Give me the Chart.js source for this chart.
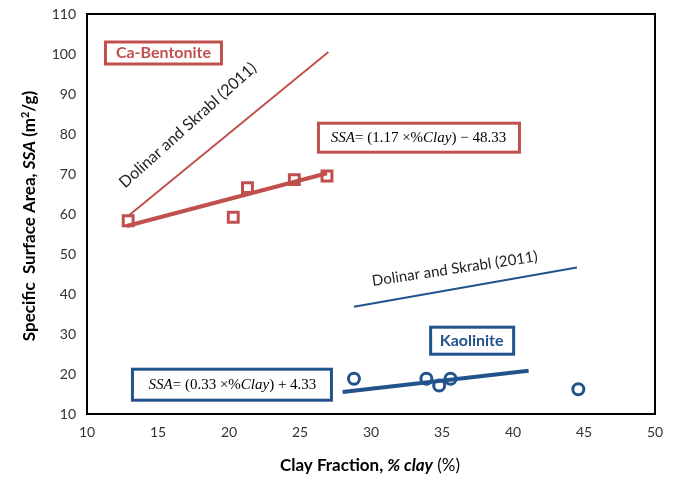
<!DOCTYPE html>
<html lang="en">
<head>
<meta charset="UTF-8">
<title>SSA vs clay fraction</title>
<script src="https://cdn.jsdelivr.net/npm/chart.js"></script>
<style>
  html, body { margin: 0; padding: 0; background: #fff; }
  #wrap { width: 674px; height: 477px; }
</style>
</head>
<body>
<div id="wrap"><canvas id="chart" width="674" height="477"></canvas></div>
<script>
// data
const bentoniteClay = [12.9, 20.3, 21.3, 24.6, 26.9];
const bentoniteSSA = [58.3, 59.2, 66.6, 68.6, 69.5];
const bentoniteFitClay = [12.8, 26.9];
const bentoniteFitSSA = [57.0, 70.2];
const bentoniteDolinarClay = [12.9, 27.0];
const bentoniteDolinarSSA = [59.5, 100.5];

const kaoliniteClay = [28.8, 33.9, 34.8, 35.6, 44.6];
const kaoliniteSSA = [18.8, 18.8, 17.1, 18.8, 16.2];
const kaoliniteFitClay = [28.0, 41.1];
const kaoliniteFitSSA = [15.5, 20.8];
const kaoliniteDolinarClay = [28.8, 44.5];
const kaoliniteDolinarSSA = [36.8, 46.6];

const xTicks = [10, 15, 20, 25, 30, 35, 40, 45, 50];
const yTicks = [10, 20, 30, 40, 50, 60, 70, 80, 90, 100, 110];

const red = '#C0504D';
const blue = '#23538C';

const pts = (xs, ys) => xs.map((x, i) => ({ x: x, y: ys[i] }));

// draws a line of text made of runs with different fonts
function drawRuns(ctx, runs, x, y, align) {
  let total = 0;
  runs.forEach(r => { ctx.font = r.font; total += ctx.measureText(r.text).width; });
  let cx = align === 'center' ? x - total / 2 : x;
  runs.forEach(r => {
    ctx.font = r.font;
    ctx.fillStyle = r.color;
    ctx.fillText(r.text, cx, y + (r.dy || 0));
    cx += ctx.measureText(r.text).width;
  });
  return total;
}

function box(ctx, x, y, w, h, color) {
  ctx.save();
  ctx.fillStyle = '#fff';
  ctx.fillRect(x, y, w, h);
  ctx.strokeStyle = color;
  ctx.lineWidth = 3;
  ctx.strokeRect(x, y, w, h);
  ctx.restore();
}

const sans = 'Lato, "Open Sans", sans-serif';
const serif = '"Liberation Serif", serif';

const decor = {
  id: 'decor',
  afterDatasetsDraw(chart) {
    const ctx = chart.ctx;
    const xs = chart.scales.x, ys = chart.scales.y;
    const a = chart.chartArea;
    ctx.save();
    ctx.textBaseline = 'middle';

    // plot frame
    ctx.strokeStyle = '#000';
    ctx.lineWidth = 2;
    ctx.strokeRect(a.left, a.top, a.right - a.left, a.bottom - a.top);

    // Ca-Bentonite label
    const cx = xs.getPixelForValue(11.3), cy = ys.getPixelForValue(103);
    box(ctx, cx, cy, 116, 22, red);
    drawRuns(ctx, [{ text: 'Ca-Bentonite', font: 'bold 16px ' + sans, color: red }],
      cx + 58, cy + 11, 'center');

    // red equation
    const rx = xs.getPixelForValue(26.3), ry = ys.getPixelForValue(82.7);
    box(ctx, rx, ry, 201, 29, red);
    drawRuns(ctx, [
      { text: 'SSA', font: 'italic 15px ' + serif, color: '#000' },
      { text: '= (1.17 \u00d7%', font: '15px ' + serif, color: '#000' },
      { text: 'Clay', font: 'italic 15px ' + serif, color: '#000' },
      { text: ') \u2212 48.33', font: '15px ' + serif, color: '#000' }
    ], rx + 100, ry + 15, 'center');

    // Kaolinite label
    const kx = xs.getPixelForValue(34.2), ky = ys.getPixelForValue(31.7);
    box(ctx, kx, ky, 83, 27, blue);
    drawRuns(ctx, [{ text: 'Kaolinite', font: 'bold 16px ' + sans, color: blue }],
      kx + 41, ky + 14, 'center');

    // blue equation
    const bx = xs.getPixelForValue(13.2), by = ys.getPixelForValue(21.2);
    box(ctx, bx, by, 199, 31, blue);
    drawRuns(ctx, [
      { text: 'SSA', font: 'italic 15px ' + serif, color: '#000' },
      { text: '= (0.33 \u00d7%', font: '15px ' + serif, color: '#000' },
      { text: 'Clay', font: 'italic 15px ' + serif, color: '#000' },
      { text: ') + 4.33', font: '15px ' + serif, color: '#000' }
    ], bx + 100, by + 16, 'center');

    // rotated source labels
    ctx.save();
    ctx.translate(xs.getPixelForValue(17.1), ys.getPixelForValue(82.2));
    ctx.rotate(-42 * Math.PI / 180);
    drawRuns(ctx, [{ text: 'Dolinar and Skrabl (2011)', font: '16px ' + sans, color: '#222' }], 0, 0, 'center');
    ctx.restore();

    ctx.save();
    ctx.translate(xs.getPixelForValue(35.9), ys.getPixelForValue(46.3));
    ctx.rotate(-8.5 * Math.PI / 180);
    drawRuns(ctx, [{ text: 'Dolinar and Skrabl (2011)', font: '15px ' + sans, color: '#222' }], 0, 0, 'center');
    ctx.restore();

    // axis titles
    drawRuns(ctx, [
      { text: 'Clay Fraction, ', font: 'bold 17px ' + sans, color: '#000' },
      { text: '% clay', font: 'italic bold 17px ' + sans, color: '#000' },
      { text: ' (%)', font: '17px ' + sans, color: '#000' }
    ], 370, 466, 'center');

    ctx.save();
    ctx.translate(30, 216);
    ctx.rotate(-Math.PI / 2);
    drawRuns(ctx, [
      { text: 'Specific  Surface Area, ', font: 'bold 17px ' + sans, color: '#000' },
      { text: 'SSA', font: 'italic bold 17px ' + sans, color: '#000' },
      { text: ' (m', font: 'bold 17px ' + sans, color: '#000' },
      { text: '2', font: 'bold 11px ' + sans, color: '#000', dy: -5 },
      { text: '/g)', font: 'bold 17px ' + sans, color: '#000' }
    ], 0, 0, 'center');
    ctx.restore();

    ctx.restore();
  }
};

const lineSet = (xs, ys, color, width) => ({
  data: pts(xs, ys), showLine: true, borderColor: color, borderWidth: width,
  pointRadius: 0, fill: false
});

new Chart(document.getElementById('chart'), {
  type: 'scatter',
  data: {
    datasets: [
      lineSet(bentoniteDolinarClay, bentoniteDolinarSSA, red, 2),
      lineSet(bentoniteFitClay, bentoniteFitSSA, red, 4),
      lineSet(kaoliniteDolinarClay, kaoliniteDolinarSSA, blue, 2),
      lineSet(kaoliniteFitClay, kaoliniteFitSSA, blue, 4),
      {
        data: pts(bentoniteClay, bentoniteSSA), pointStyle: 'rect', pointRadius: 7,
        borderColor: red, borderWidth: 3, backgroundColor: '#fff'
      },
      {
        data: pts(kaoliniteClay, kaoliniteSSA), pointStyle: 'circle', pointRadius: 5.5,
        borderColor: blue, borderWidth: 3, backgroundColor: '#fff'
      }
    ]
  },
  options: {
    responsive: false,
    animation: false,
    layout: { padding: { top: 14, right: 19, left: 0, bottom: 0 } },
    plugins: { legend: { display: false }, tooltip: { enabled: false } },
    scales: {
      x: {
        type: 'linear', min: 10, max: 50,
        afterBuildTicks: s => { s.ticks = xTicks.map(v => ({ value: v })); },
        afterFit: s => { s.height = 63; },
        grid: { display: false, drawTicks: true, tickLength: 6, color: '#888' },
        border: { color: '#000', width: 2 },
        ticks: { color: '#333', font: { size: 14, family: sans }, padding: 4, maxRotation: 0 }
      },
      y: {
        type: 'linear', min: 10, max: 110,
        afterBuildTicks: s => { s.ticks = yTicks.map(v => ({ value: v })); },
        afterFit: s => { s.width = 87; },
        grid: { display: false, drawTicks: true, tickLength: 6, color: '#888' },
        border: { color: '#000', width: 2 },
        ticks: { color: '#333', font: { size: 14, family: sans }, padding: 5 }
      }
    }
  },
  plugins: [decor]
});
</script>
</body>
</html>
